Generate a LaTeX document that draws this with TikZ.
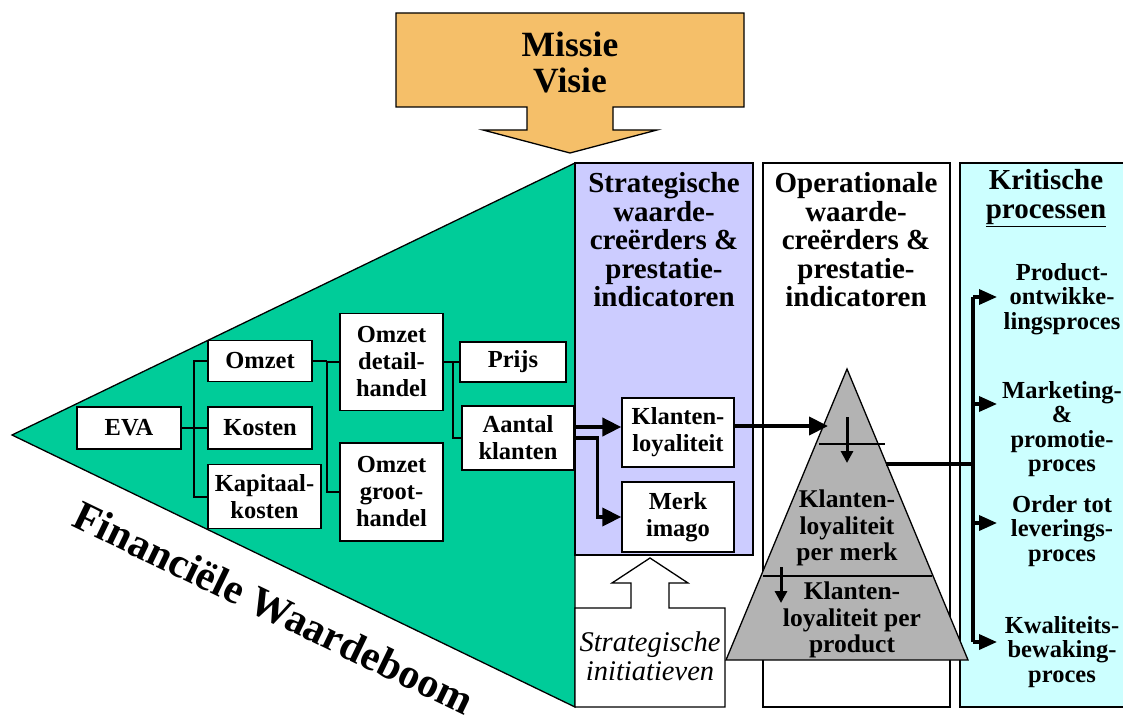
\documentclass[tikz,border=0pt]{standalone}
\usepackage{fontspec}
\setmainfont{Liberation Serif}
\usetikzlibrary{arrows.meta}
\definecolor{missie}{HTML}{F5BF69}
\definecolor{boomgroen}{HTML}{00CC99}
\definecolor{lavendel}{HTML}{CCCCFF}
\definecolor{lichtcyaan}{HTML}{CCFFFF}
\definecolor{piramide}{HTML}{B3B3B3}

\begin{document}
\begin{tikzpicture}[x=1pt,y=-1pt,
  box/.style={draw=black,line width=1.3pt,fill=white,align=center,inner sep=0pt,
              font=\fontsize{24.5}{27}\selectfont\bfseries},
  header/.style={align=center,inner sep=0pt,font=\fontsize{29}{28.5}\selectfont\bfseries},
  proc/.style={align=center,inner sep=0pt,font=\fontsize{24.5}{24.5}\selectfont\bfseries},
  pyrtext/.style={align=center,inner sep=0pt,font=\fontsize{25.5}{26.5}\selectfont\bfseries},
  column/.style={draw=black,line width=1.3pt},
  tree/.style={line width=2pt},
  bigarrow/.style={line width=4pt,-{Triangle[length=19pt,width=18pt]}},
  busline/.style={line width=4pt},
  busarrow/.style={line width=3.5pt,-{Triangle[length=18pt,width=15pt]}},
  downarrow/.style={line width=3pt,-{Triangle[length=12pt,width=12pt]}},
]
\useasboundingbox (0,0) rectangle (1123,722);

% mission / vision block arrow
\draw[fill=missie,line width=1.3pt]
  (396,13) -- (744,13) -- (744,107) -- (613,107) -- (613,130) -- (657,130)
  -- (570,153) -- (483,130) -- (527,130) -- (527,107) -- (396,107) -- cycle;
\node[header,font=\fontsize{35.5}{36}\selectfont\bfseries] (missie) at (570,62) {Missie\\Visie};

% financial value tree triangle
\draw[fill=boomgroen,line width=1.3pt] (12,435) -- (575,163) -- (575,707) -- cycle;
\node[rotate=-25.8,inner sep=0pt,font=\fontsize{42}{44}\selectfont\bfseries]
  (boom) at (274,608) {Financiële Waardeboom};

% three columns
\draw[column,fill=lavendel] (575,163) rectangle (753,555);
\draw[column,fill=white] (763,163) rectangle (950,707);
\draw[column,fill=lichtcyaan] (960,163) rectangle (1135,707);

\node[header] (hstrat) at (664,240) {Strategische\\waarde-\\creërders \&\\prestatie-\\indicatoren};
\node[header] (hoper) at (856,240) {Operationale\\waarde-\\creërders \&\\prestatie-\\indicatoren};
\node[header] (hkrit) at (1046,198) {Kritische\\\underline{processen}};

% strategic initiatives block arrow
\draw[fill=white,line width=1.3pt]
  (575,707) -- (725,707) -- (725,608) -- (669,608) -- (669,583) -- (688,583)
  -- (650,558) -- (612,583) -- (631,583) -- (631,608) -- (575,608) -- cycle;
\node[align=center,inner sep=0pt,font=\fontsize{28.5}{29}\selectfont\itshape]
  (init) at (650,656) {Strategische\\initiatieven};

% value tree boxes
\node[box,minimum width=104pt,minimum height=42pt] (eva) at (129,428) {EVA};
\node[box,minimum width=104pt,minimum height=41pt] (omzet) at (260,361) {Omzet};
\node[box,minimum width=104pt,minimum height=42pt] (kosten) at (260,428) {Kosten};
\node[box,minimum width=113pt,minimum height=64pt] (kapitaal) at (264.5,496.5) {Kapitaal-\\kosten};
\node[box,minimum width=103pt,minimum height=97pt] (detail) at (391.5,362) {Omzet\\detail-\\handel};
\node[box,minimum width=103pt,minimum height=98pt] (groot) at (391.5,492) {Omzet\\groot-\\handel};
\node[box,minimum width=106pt,minimum height=40pt] (prijs) at (513,362) {Prijs};
\node[box,minimum width=112pt,minimum height=64pt] (aantal) at (518,438) {Aantal\\klanten};
\node[box,minimum width=112pt,minimum height=69pt] (klanten) at (678,432.5) {Klanten-\\loyaliteit};
\node[box,minimum width=112pt,minimum height=70pt] (merk) at (678,517) {Merk\\imago};

% tree connectors
\coordinate (b1) at (194,0);
\coordinate (b2) at (327,0);
\coordinate (b3) at (453,0);
\draw[tree] (eva.east) -- (kosten.west);
\draw[tree] (omzet.west) -- (omzet.west -| b1) -- (b1 |- kapitaal.west) -- (kapitaal.west);
\draw[tree] (omzet.east) -- (omzet.east -| b2);
\draw[tree] (detail.west) -- (detail.west -| b2) -- (b2 |- groot.west) -- (groot.west);
\draw[tree] (detail.east) -- (prijs.west);
\draw[tree] (prijs.west -| b3) -- (b3 |- aantal.west) -- (aantal.west);

% strategic value drivers
\draw[bigarrow] ([yshift=11pt]aantal.east) -- ([yshift=11pt]aantal.east -| klanten.west);
\draw[bigarrow,line width=3.5pt] (aantal.east) -- ++(23,0) |- (merk.west);

% loyalty pyramid
\coordinate (apex) at (847,369);
\coordinate (baseR) at (968,660);
\coordinate (baseL) at (726,660);
\draw[fill=piramide,line width=1.3pt] (apex) -- (baseR) -- (baseL) -- cycle;
\draw[line width=1.3pt] (819,444) -- (885,444);
\draw[line width=1.3pt] (763,576) -- (932,576);
\draw[downarrow] (847,417) -- (847,463);
\draw[downarrow] (781,567) -- (781,603);
\node[pyrtext] (merkloy) at (847,528) {Klanten-\\loyaliteit\\per merk};
\node[pyrtext] (prodloy) at (852,620) {Klanten-\\loyaliteit per\\product};

\coordinate (pyrin) at (828,426);
\draw[bigarrow] ([yshift=6.5pt]klanten.east) -- (pyrin);

% critical processes
\coordinate (pyrout) at (886,464);
\coordinate (busT) at (973,297);
\coordinate (busB) at (973,642);
\draw[busline] (pyrout) -- (pyrout -| busT);
\draw[busline] (busT) -- (busB);

\node[proc] (p1) at (1062,299) {Product-\\ontwikke-\\lingsproces};
\node[proc] (p2) at (1062,429) {Marketing-\\\&\\promotie-\\proces};
\node[proc] (p3) at (1062,531) {Order tot\\leverings-\\proces};
\node[proc] (p4) at (1062,652) {Kwaliteits-\\bewaking-\\proces};

\foreach \yy in {297,404,523,642} {
  \draw[busarrow] (973,\yy) -- (997,\yy);
}
\end{tikzpicture}
\end{document}
